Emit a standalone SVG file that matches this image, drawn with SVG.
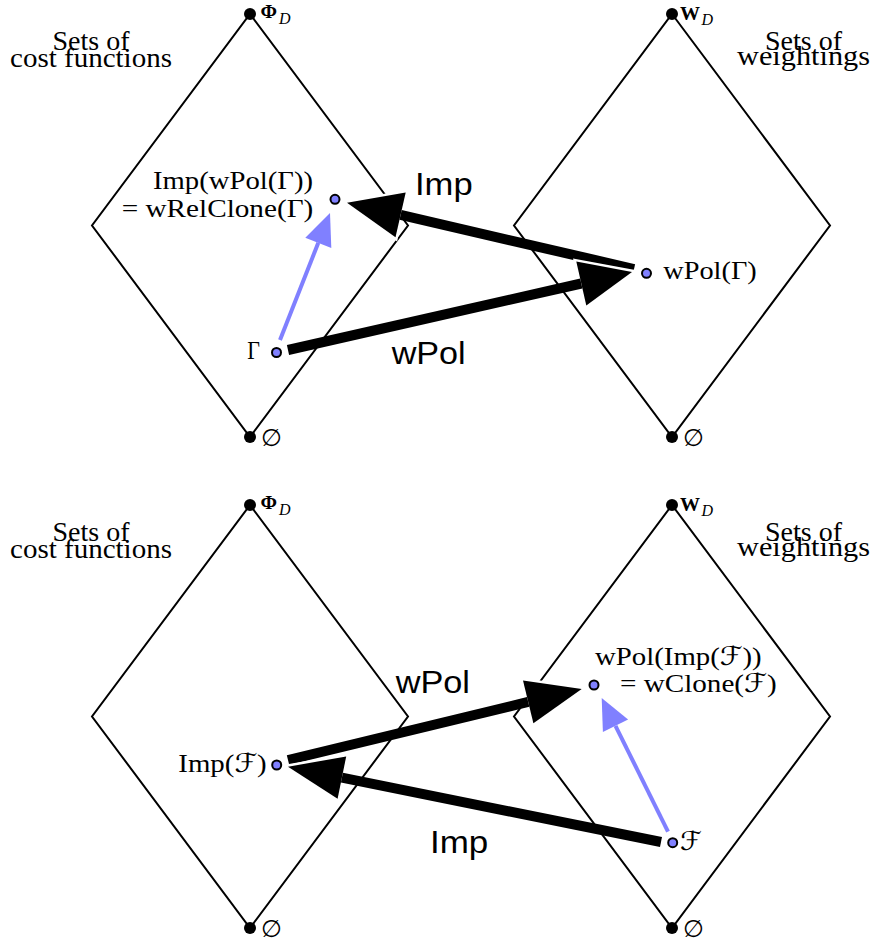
<svg xmlns="http://www.w3.org/2000/svg" width="874" height="945" viewBox="0 0 874 945">
<style>
.dia{fill:none;stroke:#000;stroke-width:2;stroke-linejoin:miter}
.vtx{fill:#000}
.pt{fill:#8080ff;stroke:#000;stroke-width:2}
.shaft{stroke:#000;stroke-width:10;stroke-linecap:butt}
.head{fill:#000;stroke:#fff;stroke-width:5;paint-order:stroke;stroke-linejoin:miter}
.bshaft{stroke:#8080ff;stroke-width:4;stroke-linecap:butt}
.bhead{fill:#8080ff}
.s{font-family:"Liberation Serif","DejaVu Serif","DejaVu Sans",serif;font-size:26px;fill:#000}
.set{font-family:"Liberation Serif","DejaVu Serif",serif;font-size:27px;fill:#000}
.sans{font-family:"Liberation Sans",Arial,sans-serif;font-size:31px;fill:#000}
.bold{font-family:"Liberation Serif","DejaVu Serif",serif;font-size:19px;font-weight:bold}
.sub{font-family:"Liberation Serif","DejaVu Serif",serif;font-size:16px;font-style:italic}
.es{font-family:"Liberation Serif","DejaVu Serif","DejaVu Sans",serif;font-size:24px}
</style>
<rect width="874" height="945" fill="#fff"/>

<!-- top panel -->
<g id="top-cost-lattice">
<polygon class="dia" points="250,14 408,225.5 250,437 92,225.5"/>
<circle class="vtx" cx="250" cy="14" r="6"/>
<circle class="vtx" cx="250" cy="437" r="6"/>
<text class="bold" x="260.5" y="18" textLength="16.5" lengthAdjust="spacingAndGlyphs">Φ</text>
<text class="sub" x="279" y="23.5">D</text>
<text class="es" x="261" y="446">∅</text>
<text class="set" x="52.5" y="50" textLength="77" lengthAdjust="spacingAndGlyphs">Sets of</text>
<text class="set" x="10" y="66.5" textLength="162" lengthAdjust="spacingAndGlyphs">cost functions</text>
</g>
<g id="top-weight-lattice">
<polygon class="dia" points="672,14 830,225.5 672,437 514,225.5"/>
<circle class="vtx" cx="672" cy="14" r="6"/>
<circle class="vtx" cx="672" cy="437" r="6"/>
<text class="bold" x="680" y="20" textLength="20" lengthAdjust="spacingAndGlyphs">W</text>
<text class="sub" x="701.5" y="25">D</text>
<text class="es" x="683" y="446">∅</text>
<text class="set" x="765" y="50" textLength="77" lengthAdjust="spacingAndGlyphs">Sets of</text>
<text class="set" x="737" y="65" textLength="133" lengthAdjust="spacingAndGlyphs">weightings</text>
</g>

<!-- bottom panel -->
<g id="bottom-cost-lattice">
<polygon class="dia" points="250,505 408,716.5 250,928 92,716.5"/>
<circle class="vtx" cx="250" cy="505" r="6"/>
<circle class="vtx" cx="250" cy="928" r="6"/>
<text class="bold" x="260.5" y="509" textLength="16.5" lengthAdjust="spacingAndGlyphs">Φ</text>
<text class="sub" x="279" y="514.5">D</text>
<text class="es" x="261" y="937">∅</text>
<text class="set" x="52.5" y="541" textLength="77" lengthAdjust="spacingAndGlyphs">Sets of</text>
<text class="set" x="10" y="557.5" textLength="162" lengthAdjust="spacingAndGlyphs">cost functions</text>
</g>
<g id="bottom-weight-lattice">
<polygon class="dia" points="672,505 830,716.5 672,928 514,716.5"/>
<circle class="vtx" cx="672" cy="505" r="6"/>
<circle class="vtx" cx="672" cy="928" r="6"/>
<text class="bold" x="680" y="511" textLength="20" lengthAdjust="spacingAndGlyphs">W</text>
<text class="sub" x="701.5" y="516">D</text>
<text class="es" x="683" y="937">∅</text>
<text class="set" x="765" y="541" textLength="77" lengthAdjust="spacingAndGlyphs">Sets of</text>
<text class="set" x="737" y="556" textLength="133" lengthAdjust="spacingAndGlyphs">weightings</text>
</g>

<g id="connectors">
<!-- top: Imp arrow -->
<polygon class="head" points="347,202.7 405.7,192.5 395.5,237.3"/>
<line class="shaft" x1="634" y1="269" x2="400.6" y2="214.9"/>
<!-- top: wPol arrow -->
<polygon class="head" points="632,272 576.3,261.6 586.3,305.4"/>
<line class="shaft" x1="288" y1="350" x2="581.3" y2="283.5"/>
<!-- top: blue arrow -->
<line class="bshaft" x1="280" y1="340" x2="318.3" y2="242.8"/>
<polygon class="bhead" points="330,213 331.3,247.9 305.3,237.7"/>

<!-- bottom: wPol arrow -->
<polygon class="head" points="581.7,689 523,680.5 533.4,723.3"/>
<line class="shaft" x1="288" y1="760" x2="528.2" y2="701.9"/>
<!-- bottom: Imp arrow -->
<polygon class="head" points="288,766.7 346.2,756.5 337.6,798.7"/>
<line class="shaft" x1="661" y1="842" x2="341.9" y2="777.6"/>
<!-- bottom: blue arrow -->
<line class="bshaft" x1="668" y1="831.7" x2="615.5" y2="725.8"/>
<polygon class="bhead" points="601.7,698 628.1,719.6 602.9,732"/>

<text class="sans" x="415" y="194.5" textLength="57.7" lengthAdjust="spacingAndGlyphs">Imp</text>
<text class="sans" x="391.7" y="364" textLength="74" lengthAdjust="spacingAndGlyphs">wPol</text>
<text class="sans" x="395.7" y="693.3" textLength="74.3" lengthAdjust="spacingAndGlyphs">wPol</text>
<text class="sans" x="430" y="853.3" textLength="58.3" lengthAdjust="spacingAndGlyphs">Imp</text>
</g>

<g id="gamma">
<circle class="pt" cx="276.5" cy="352.5" r="4.5"/>
<text class="s" x="247.3" y="359" textLength="12.7" lengthAdjust="spacingAndGlyphs">Γ</text>
</g>
<g id="wpol-gamma">
<circle class="pt" cx="646.5" cy="273.3" r="4.5"/>
<text class="s" x="663.3" y="279.3" textLength="93.4" lengthAdjust="spacingAndGlyphs">wPol(Γ)</text>
</g>
<g id="imp-wpol-gamma">
<circle class="pt" cx="335" cy="199.3" r="4.5"/>
<text class="s" x="153" y="189.3" textLength="160" lengthAdjust="spacingAndGlyphs">Imp(wPol(Γ))</text>
<text class="s" x="121.7" y="216.7" textLength="191.6" lengthAdjust="spacingAndGlyphs">= wRelClone(Γ)</text>
</g>
<g id="imp-F">
<circle class="pt" cx="276.7" cy="765" r="4.5"/>
<text class="s" x="178.3" y="771.7" textLength="88.4" lengthAdjust="spacingAndGlyphs">Imp(ℱ)</text>
</g>
<g id="wpol-imp-F">
<circle class="pt" cx="594" cy="685" r="4.5"/>
<text class="s" x="595" y="665" textLength="166.7" lengthAdjust="spacingAndGlyphs">wPol(Imp(ℱ))</text>
<text class="s" x="620" y="691.7" textLength="156.7" lengthAdjust="spacingAndGlyphs">= wClone(ℱ)</text>
</g>
<g id="F">
<circle class="pt" cx="672.7" cy="842.7" r="4.5"/>
<text class="s" x="680" y="850" textLength="21.7" lengthAdjust="spacingAndGlyphs">ℱ</text>
</g>
</svg>
